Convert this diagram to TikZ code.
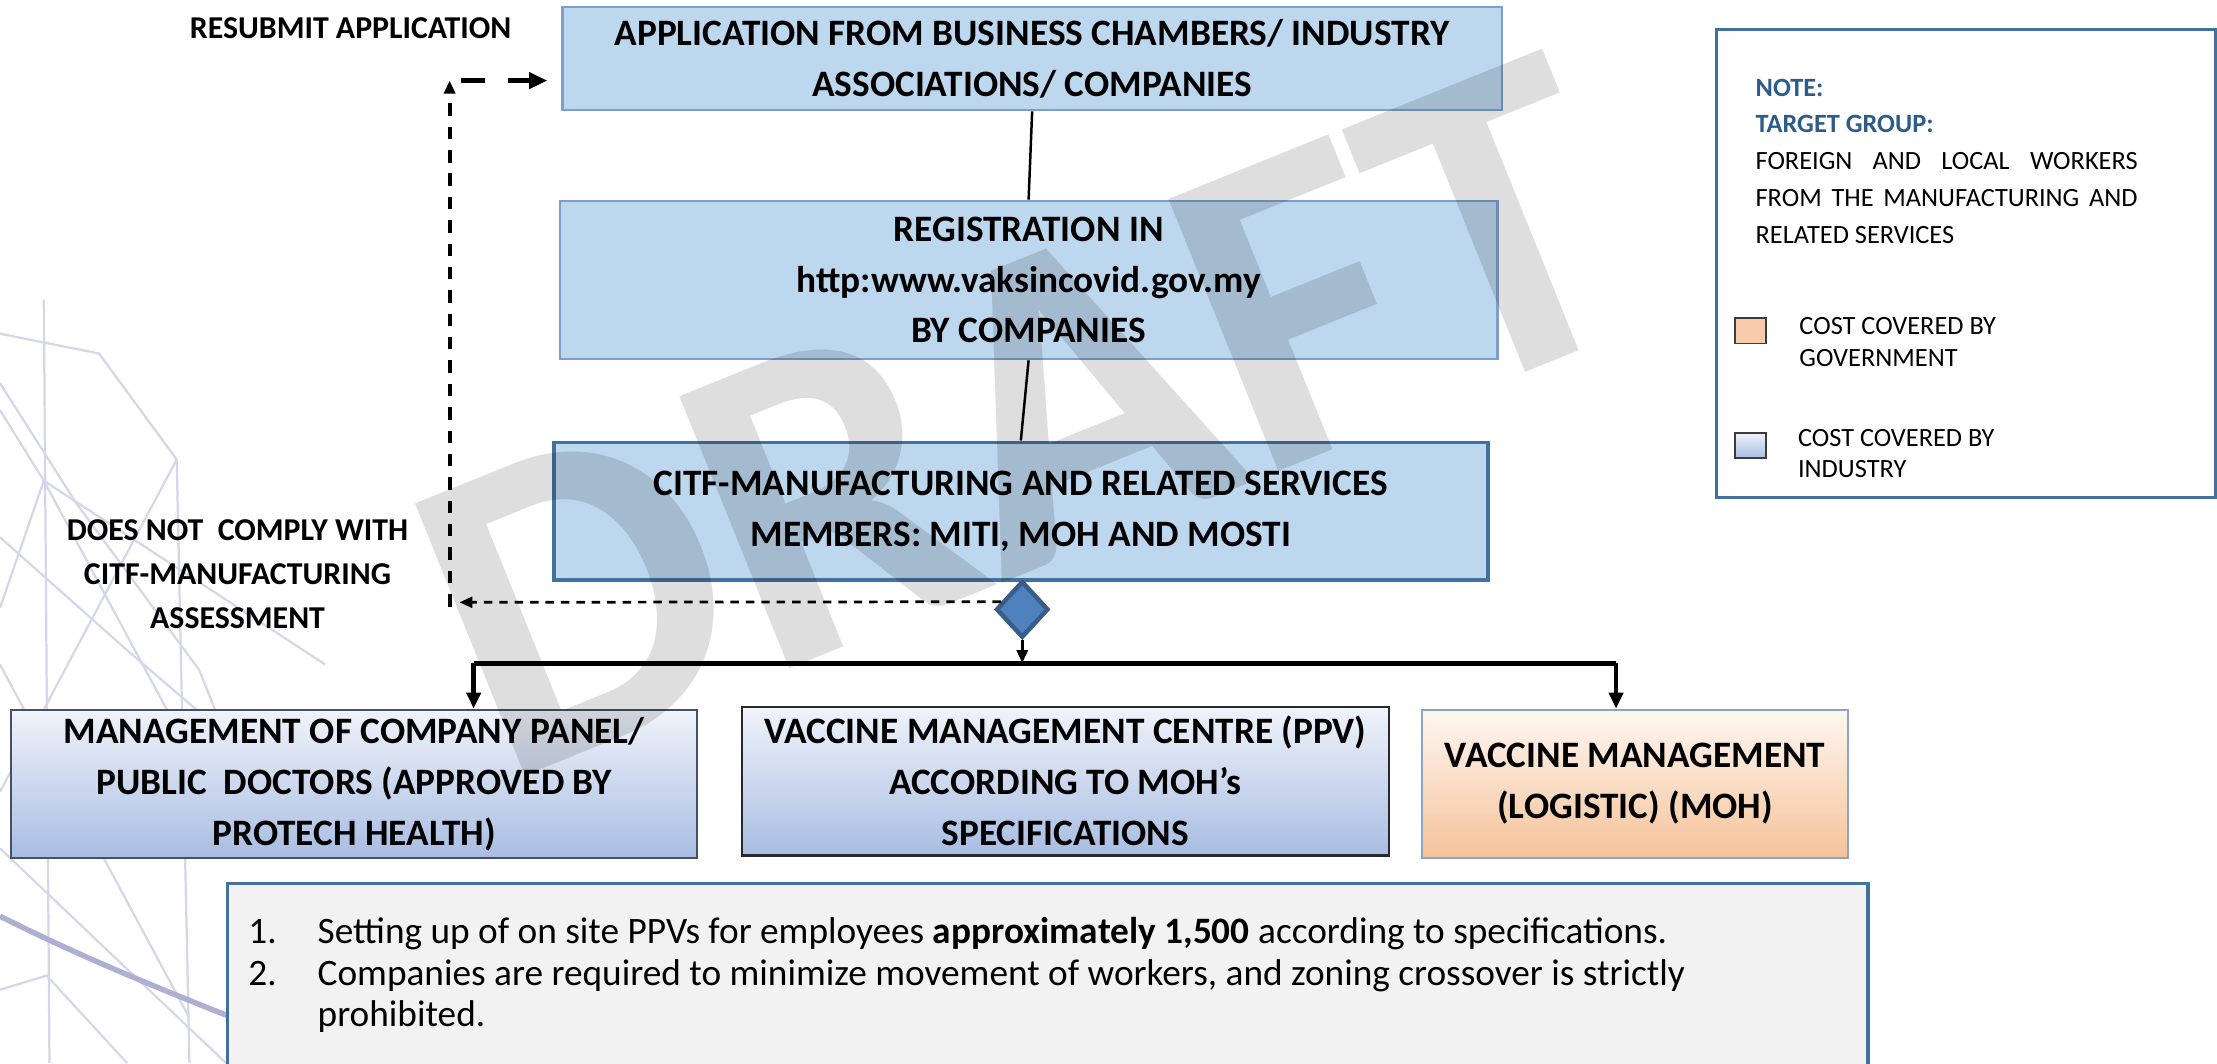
\documentclass[tikz,border=0pt]{standalone}
\usepackage{fontspec}
\setmainfont{Carlito}
\usetikzlibrary{shapes.geometric,arrows.meta,calc}
\definecolor{boxblue}{HTML}{BDD7EE}
\definecolor{tbord}{HTML}{7F9FCB}
\definecolor{cbord}{HTML}{41719C}
\definecolor{diafill}{HTML}{4F81BD}
\definecolor{diabord}{HTML}{385D8A}
\definecolor{gtop}{HTML}{F0F3FA}
\definecolor{gbot}{HTML}{A8BDE2}
\definecolor{otop}{HTML}{FEF7F1}
\definecolor{obot}{HTML}{F5C29A}
\definecolor{notebl}{HTML}{2E5C8A}
\definecolor{legor}{HTML}{F8CBAD}
\definecolor{bggray}{HTML}{F2F2F2}
\definecolor{bgline}{RGB}{214,214,234}
\definecolor{bgcurve}{RGB}{175,175,212}
\begin{document}
\begin{tikzpicture}[x=0.01cm,y=-0.01cm,
  boxtxt/.style={align=center, font=\fontsize{7.5}{10.24}\selectfont\bfseries, inner sep=0pt},
  topbox/.style={boxtxt, draw=tbord, fill=boxblue, line width=0.45pt},
  gradbox/.style={boxtxt, top color=gtop, bottom color=gbot, line width=0.45pt},
  lbl/.style={align=center, font=\fontsize{6.4}{8.8}\selectfont\bfseries, inner sep=0pt},
  notetxt/.style={anchor=base west, inner sep=0pt, font=\fontsize{5.3}{7}\selectfont},
  bodytxt/.style={anchor=base west, inner sep=0pt, font=\fontsize{7.5}{8}\selectfont},
  tipA/.style={-{Triangle[length=3.2pt,width=2.8pt]}},
  tipB/.style={-{Triangle[length=2.6pt,width=2.2pt]}},
  flow/.style={line width=0.9pt, tipA}
]
\useasboundingbox (0,0) rectangle (1568,752);
\clip (0,0) rectangle (1568,752);
% background decoration
\begin{scope}[draw=bgline, line width=0.45pt]
  \draw (31,212) -- (35,752);
  \draw (125,325) -- (134,752);
  \draw (0,271) -- (54,356) -- (141,474) -- (175,560);
  \draw (0,290) -- (31,340) -- (230,470);
  \draw (31,340) -- (160,580);
  \draw (0,430) -- (31,340);
  \draw (0,470) -- (134,720);
  \draw (0,560) -- (125,325);
  \draw (0,600) -- (160,752);
  \draw (0,700) -- (33,690) -- (90,752);
  \draw (0,380) -- (90,460) -- (160,520);
  \draw (0,236) -- (70,250) -- (125,325);
\end{scope}
\draw[bgcurve, line width=1.1pt] (0,648) .. controls (60,678) and (110,698) .. (165,720);

% main boxes
\node[topbox, minimum width=6.64cm, minimum height=0.73cm] (app) at (730,41.5)
  {APPLICATION FROM BUSINESS CHAMBERS/ INDUSTRY\\ASSOCIATIONS/ COMPANIES};
\node[topbox, minimum width=6.63cm, minimum height=1.12cm] (reg) at (727.5,198)
  {REGISTRATION IN\\http:www.vaksincovid.gov.my\\BY COMPANIES};
\node[topbox, draw=cbord, line width=0.8pt, minimum width=6.60cm, minimum height=0.97cm] (citf) at (722,361.5)
  {CITF-MANUFACTURING AND RELATED SERVICES\\MEMBERS: MITI, MOH AND MOSTI};
\node[diamond, draw=diabord, fill=diafill, line width=0.9pt, minimum width=0.37cm, minimum height=0.40cm, inner sep=0pt] (dia) at (723,431) {};

\node[gradbox, draw={rgb,255:red,70;green,80;blue,100}, minimum width=4.85cm, minimum height=1.05cm] (mgmt) at (250.5,554.5)
  {MANAGEMENT OF COMPANY PANEL/\\PUBLIC\ \ DOCTORS (APPROVED BY\\PROTECH HEALTH)};
\node[gradbox, draw={rgb,255:red,40;green,40;blue,45}, minimum width=4.57cm, minimum height=1.05cm] (ppv) at (753.5,552.5)
  {VACCINE MANAGEMENT CENTRE (PPV)\\ACCORDING TO MOH’s\\SPECIFICATIONS};
\node[boxtxt, top color=otop, bottom color=obot, draw={rgb,255:red,140;green,165;blue,195}, line width=0.45pt, minimum width=3.01cm, minimum height=1.05cm] (logi) at (1156.5,554.5)
  {VACCINE MANAGEMENT\\(LOGISTIC) (MOH)};

% connectors
\draw[line width=0.5pt] (app.south) -- (reg.north);
\draw[line width=0.5pt] (reg.south) -- (citf.north);
\coordinate (busL) at (335,469);
\coordinate (busR) at (1143,469);
\coordinate (busM) at (723,469);
\draw[line width=0.6pt, tipB] (dia.south) -- (busM);
\draw[line width=1.0pt] (busL) -- (busR);
\draw[flow] (busL) -- (mgmt.north -| busL);
\draw[flow] (busR) -- (logi.north -| busR);

% not-comply loop
\coordinate (failtip) at (325,426);
\coordinate (vbot) at (318,429);
\coordinate (vtop) at (318,57);
\coordinate (hstart) at (326,57);
\draw[line width=0.55pt, dash pattern=on 1.7pt off 1.4pt, tipB] ($(dia.west)!0.25!(dia.north)$) -- (failtip);
\draw[line width=0.8pt, dash pattern=on 2.5pt off 2.2pt, tipB] (vbot) -- (vtop);
\draw[line width=1.0pt, dash pattern=on 4.8pt off 4.6pt, -{Triangle[length=3.7pt,width=3.2pt]}, shorten >=2.8pt] (hstart) -- (app.west |- hstart);

% labels
\node[lbl] (resub) at (248,20) {RESUBMIT APPLICATION};
\node[lbl] (fail) at (168,406) {DOES NOT\ \ COMPLY WITH\\CITF-MANUFACTURING\\ASSESSMENT};

% note box
\draw[cbord, line width=0.6pt] (1214,21) rectangle (1567,352);
\node[notetxt, font=\fontsize{5.3}{7}\selectfont\bfseries, text=notebl] (n1) at (1241,68) {NOTE:};
\node[notetxt, font=\fontsize{5.3}{7}\selectfont\bfseries, text=notebl] (n2) at (1241,94) {TARGET GROUP:};
\node[notetxt] (n3) at (1241,120) {\makebox[2.70cm][s]{FOREIGN AND LOCAL WORKERS}};
\node[notetxt] (n4) at (1241,146) {\makebox[2.70cm][s]{FROM THE MANUFACTURING AND}};
\node[notetxt] (n5) at (1241,172.5) {RELATED SERVICES};
\draw[fill=legor, draw={rgb,255:red,60;green,60;blue,60}, line width=0.35pt] (1227,225) rectangle (1249,243);
\node[notetxt] (g1) at (1272,236.5) {COST COVERED BY};
\node[notetxt] (g2) at (1272,259) {GOVERNMENT};
\shade[top color=gtop, bottom color=gbot] (1227,306) rectangle (1249,324);
\draw[draw={rgb,255:red,60;green,60;blue,60}, line width=0.35pt] (1227,306) rectangle (1249,324);
\node[notetxt] (i1) at (1271,315.5) {COST COVERED BY};
\node[notetxt] (i2) at (1271,337.5) {INDUSTRY};

% bottom box
\draw[fill=bggray, draw=cbord, line width=0.7pt] (161,625) rectangle (1321,800);
\node[bodytxt] (b1n) at (175,667) {1.};
\node[bodytxt] (b1) at (224,667) {Setting up of on site PPVs for employees \textbf{approximately 1,500} according to specifications.};
\node[bodytxt] (b2n) at (175,697) {2.};
\node[bodytxt] (b2) at (224,697) {Companies are required to minimize movement of workers, and zoning crossover is strictly};
\node[bodytxt] (b3) at (224,726) {prohibited.};

% watermark
\node[rotate=22, anchor=base west, font=\fontsize{91}{91}\selectfont\bfseries, text=black, text opacity=0.13, inner sep=0pt] (draft) at (354,556) {DRAFT};
\end{tikzpicture}
\end{document}
